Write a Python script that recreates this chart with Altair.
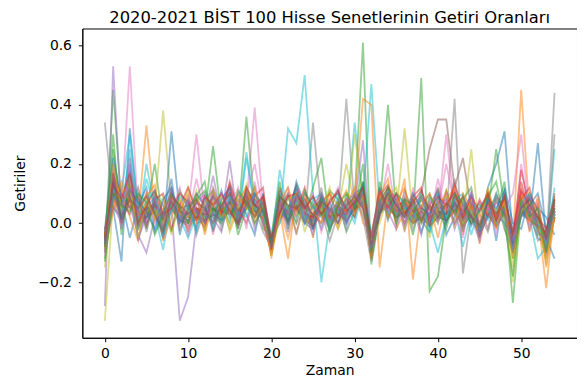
import altair as alt
import pandas as pd

# Time index (weeks) 0..54
zaman = list(range(55))

# Returns (representative series)
s01 = [-0.06, 0.15, -0.02, 0.18, 0.01, 0.05, 0.03, -0.03, 0.10, 0.04,
       0.00, 0.05, 0.01, 0.06, 0.03, 0.10, -0.02, 0.12, 0.07, 0.02,
       -0.10, 0.09, 0.03, 0.05, 0.00, -0.02, 0.08, 0.02, 0.06, 0.00,
       0.10, 0.12, -0.12, 0.04, 0.09, 0.05, 0.02, 0.04, 0.01, -0.03,
       0.06, 0.03, 0.08, -0.02, 0.05, -0.05, 0.07, 0.02, 0.10, -0.10,
       0.06, 0.04, -0.02, -0.10, 0.02]
s02 = [-0.03, 0.08, 0.05, 0.12, 0.02, 0.33, 0.04, -0.05, 0.05, 0.01,
       0.03, 0.02, -0.01, 0.05, 0.04, 0.07, 0.02, 0.06, 0.04, 0.05,
       -0.07, 0.03, 0.00, 0.08, 0.03, 0.02, 0.04, -0.01, 0.03, 0.04,
       0.05, 0.06, -0.08, 0.06, 0.05, 0.02, 0.07, 0.00, 0.04, 0.02,
       0.01, 0.04, 0.03, 0.02, 0.03, -0.02, 0.05, -0.01, 0.03, -0.06,
       0.45, 0.03, 0.02, -0.22, 0.04]
s03 = [-0.10, 0.45, 0.06, 0.08, -0.02, 0.04, 0.20, 0.00, 0.04, 0.03,
       0.02, 0.01, 0.03, 0.02, 0.00, 0.05, 0.03, 0.10, 0.06, 0.01,
       -0.09, 0.06, 0.04, 0.06, 0.01, 0.03, 0.06, 0.02, 0.05, 0.03,
       0.08, 0.61, -0.14, 0.03, 0.06, 0.04, 0.03, 0.02, 0.02, 0.01,
       0.04, 0.01, 0.06, 0.01, 0.02, -0.04, 0.03, 0.01, 0.06, -0.09,
       0.04, 0.01, 0.01, -0.07, 0.02]
s04 = [-0.07, 0.20, 0.04, 0.14, 0.03, 0.02, 0.06, 0.02, 0.08, 0.05,
       0.06, 0.08, 0.04, 0.09, 0.05, 0.12, 0.02, 0.09, 0.10, 0.06,
       -0.06, 0.12, 0.04, 0.13, 0.05, 0.03, 0.09, 0.04, 0.07, 0.05,
       0.09, 0.11, -0.09, 0.09, 0.13, 0.05, 0.08, 0.03, 0.06, 0.02,
       0.05, 0.06, 0.10, 0.03, 0.06, -0.01, 0.08, 0.03, 0.09, -0.06,
       0.10, 0.04, 0.02, -0.06, 0.05]
s05 = [-0.28, 0.53, 0.02, 0.06, -0.04, -0.10, 0.02, -0.03, 0.05, -0.33,
       -0.25, 0.00, 0.01, 0.03, 0.01, 0.04, -0.01, 0.05, 0.03, 0.02,
       -0.09, 0.04, 0.01, 0.05, 0.01, -0.01, 0.03, -0.02, 0.03, 0.01,
       0.05, 0.06, -0.11, 0.04, 0.06, 0.02, 0.04, 0.00, 0.02, -0.01,
       0.02, 0.01, 0.04, -0.01, 0.03, -0.04, 0.03, -0.01, 0.04, -0.09,
       0.04, 0.01, -0.01, -0.09, 0.02]
s06 = [-0.05, 0.12, 0.03, 0.09, 0.01, 0.04, 0.05, 0.00, 0.07, 0.03,
       0.02, 0.04, 0.03, 0.05, 0.03, 0.08, 0.01, 0.07, 0.05, 0.04,
       -0.11, 0.05, 0.03, 0.07, 0.03, 0.01, 0.05, 0.01, 0.05, 0.02,
       0.07, 0.09, -0.10, 0.05, 0.08, 0.03, 0.06, 0.02, 0.10, 0.25,
       0.35, 0.35, 0.12, 0.22, 0.05, -0.02, 0.04, 0.00, 0.05, -0.07,
       0.06, 0.03, 0.01, -0.08, 0.04]
s07 = [-0.08, 0.10, 0.05, 0.53, 0.02, 0.03, 0.04, -0.02, 0.05, 0.02,
       0.04, 0.30, 0.03, 0.04, 0.01, 0.05, -0.01, 0.07, 0.39, 0.05,
       -0.08, 0.04, 0.02, 0.06, 0.02, 0.00, 0.04, 0.00, 0.03, 0.02,
       0.05, 0.08, -0.10, 0.05, 0.07, 0.03, 0.05, 0.01, 0.03, 0.00,
       0.03, 0.30, 0.05, 0.00, 0.04, -0.03, 0.04, 0.00, 0.05, -0.08,
       0.20, 0.02, 0.00, -0.08, 0.03]
s08 = [0.34, 0.05, 0.02, 0.08, 0.00, 0.02, 0.04, -0.02, 0.05, 0.01,
       0.00, 0.02, 0.01, 0.03, 0.01, 0.05, -0.01, 0.07, 0.04, 0.02,
       -0.09, 0.04, 0.01, 0.06, 0.01, 0.34, 0.04, -0.01, 0.03, 0.42,
       0.05, 0.07, -0.11, 0.04, 0.06, 0.02, 0.04, 0.00, 0.02, -0.01,
       0.02, 0.01, 0.42, -0.17, 0.03, -0.04, 0.03, -0.01, 0.04, -0.09,
       0.04, 0.01, -0.01, -0.09, 0.44]
s09 = [-0.33, 0.08, 0.04, 0.07, 0.01, 0.03, 0.05, 0.38, 0.06, 0.02,
       0.01, 0.03, 0.02, 0.04, 0.02, 0.06, 0.00, 0.08, 0.05, 0.03,
       -0.08, 0.05, 0.02, 0.07, 0.02, 0.00, 0.05, 0.00, 0.04, 0.20,
       0.06, 0.08, -0.10, 0.05, 0.07, 0.03, 0.05, 0.01, 0.03, 0.00,
       0.03, 0.02, 0.05, 0.00, 0.25, -0.03, 0.04, 0.00, 0.05, -0.10,
       0.05, 0.02, 0.00, -0.10, 0.03]
s10 = [-0.06, 0.15, 0.05, 0.22, 0.01, 0.15, 0.05, -0.01, 0.06, 0.02,
       0.01, 0.03, 0.02, 0.04, 0.02, 0.06, 0.00, 0.08, 0.05, 0.03,
       -0.08, 0.02, 0.32, 0.27, 0.50, 0.10, -0.20, 0.00, 0.04, 0.02,
       0.34, 0.08, 0.47, 0.05, 0.07, 0.03, 0.05, 0.01, 0.03, 0.00,
       -0.10, 0.02, 0.05, 0.00, 0.04, -0.03, 0.04, 0.00, 0.05, -0.08,
       0.05, 0.02, 0.00, -0.08, 0.25]
s11 = [-0.02, 0.05, -0.13, 0.32, 0.03, 0.02, 0.06, -0.04, 0.31, 0.03,
       0.02, 0.04, 0.00, 0.05, 0.03, 0.07, 0.01, 0.09, 0.06, 0.02,
       -0.07, 0.06, 0.03, 0.08, 0.03, 0.01, 0.06, 0.01, 0.05, 0.03,
       0.07, 0.09, -0.09, 0.06, 0.08, 0.04, 0.06, 0.02, 0.04, 0.01,
       0.04, 0.03, 0.06, 0.01, 0.05, -0.02, 0.12, 0.20, 0.31, -0.05,
       0.03, 0.01, 0.27, -0.05, -0.12]
s12 = [-0.05, 0.12, 0.06, 0.11, -0.01, 0.05, 0.06, -0.03, 0.07, 0.03,
       -0.02, 0.02, 0.03, 0.06, 0.00, 0.08, 0.02, 0.10, 0.04, 0.01,
       -0.10, 0.04, -0.12, 0.09, 0.04, 0.01, 0.07, 0.02, 0.05, 0.03,
       0.06, 0.42, 0.40, -0.15, 0.08, 0.04, 0.15, -0.19, 0.05, 0.02,
       0.02, 0.03, 0.07, 0.02, 0.06, -0.01, 0.06, 0.01, 0.07, -0.05,
       0.07, 0.03, 0.02, -0.04, 0.05]
s13 = [-0.09, 0.25, 0.04, 0.08, 0.02, 0.05, 0.03, -0.02, 0.06, 0.04,
       0.02, 0.02, 0.03, 0.26, 0.02, 0.06, 0.01, 0.36, 0.06, 0.03,
       -0.08, 0.05, 0.02, 0.07, 0.02, 0.12, 0.22, 0.00, 0.04, 0.02,
       0.06, 0.08, -0.10, 0.05, 0.40, 0.03, 0.05, 0.01, 0.49, -0.23,
       -0.18, 0.02, 0.05, 0.00, 0.04, -0.03, 0.04, 0.25, 0.05, -0.08,
       0.05, 0.02, 0.00, -0.08, 0.03]
s14 = [-0.04, 0.18, 0.02, 0.12, 0.04, 0.03, 0.07, 0.01, 0.07, 0.04,
       0.03, 0.05, 0.04, 0.07, 0.05, 0.13, 0.03, 0.07, 0.08, 0.04,
       -0.07, 0.08, 0.05, 0.12, 0.03, 0.02, 0.08, 0.03, 0.06, 0.04,
       0.08, 0.10, -0.08, 0.07, 0.12, 0.06, 0.07, 0.04, 0.05, 0.03,
       0.07, 0.05, 0.09, 0.04, 0.07, 0.00, 0.06, 0.02, 0.08, -0.05,
       0.18, 0.05, 0.03, -0.05, 0.07]
s15 = [-0.06, 0.14, 0.04, 0.09, -0.05, 0.02, 0.04, -0.01, 0.08, 0.02,
       0.03, 0.05, 0.02, 0.16, 0.02, 0.21, 0.00, 0.08, 0.05, 0.03,
       -0.09, 0.05, 0.02, 0.07, 0.02, 0.00, 0.05, 0.00, 0.04, 0.02,
       0.06, 0.28, -0.10, 0.05, 0.07, 0.03, 0.05, 0.01, 0.03, 0.00,
       0.03, 0.02, 0.05, 0.00, 0.04, -0.03, 0.04, 0.00, 0.05, -0.08,
       0.05, 0.02, 0.00, -0.08, 0.08]
s16 = [-0.03, 0.09, 0.05, 0.13, 0.00, 0.04, 0.06, 0.00, 0.07, 0.03,
       0.01, 0.04, 0.02, 0.05, 0.03, 0.07, 0.00, 0.09, 0.06, 0.03,
       -0.08, 0.06, 0.02, 0.12, 0.02, 0.01, 0.06, 0.00, 0.05, 0.03,
       0.07, 0.09, -0.10, 0.06, 0.08, 0.04, 0.06, 0.01, 0.04, 0.01,
       0.04, 0.03, 0.06, 0.01, 0.05, -0.03, 0.05, 0.01, 0.06, -0.08,
       0.06, 0.03, 0.01, -0.08, 0.04]
s17 = [-0.07, 0.08, 0.03, 0.10, 0.01, 0.04, 0.05, -0.01, 0.05, 0.02,
       0.02, 0.03, 0.02, 0.04, 0.02, 0.06, 0.00, 0.08, 0.05, 0.03,
       -0.08, 0.05, 0.02, 0.07, 0.02, 0.00, 0.05, 0.00, 0.04, 0.02,
       0.06, 0.08, -0.10, 0.05, 0.20, 0.03, 0.05, 0.01, 0.03, 0.00,
       0.15, 0.02, 0.05, 0.00, 0.04, -0.03, 0.04, 0.00, 0.05, 0.10,
       0.30, 0.02, 0.00, -0.08, 0.03]
s18 = [-0.05, 0.06, 0.02, 0.08, 0.00, 0.02, 0.04, -0.02, 0.05, 0.01,
       -0.01, 0.02, 0.01, 0.03, 0.01, 0.05, -0.01, 0.07, 0.04, 0.02,
       -0.09, 0.04, 0.01, 0.06, 0.01, -0.01, 0.04, -0.01, 0.03, 0.01,
       0.05, 0.07, -0.11, 0.04, 0.06, 0.02, 0.04, 0.00, 0.02, -0.01,
       0.02, 0.01, 0.04, -0.01, 0.03, -0.04, 0.03, -0.01, 0.04, -0.09,
       0.04, 0.01, -0.01, -0.09, 0.02]
s19 = [-0.04, 0.15, 0.03, 0.10, 0.00, 0.03, 0.05, -0.01, 0.06, 0.02,
       0.12, 0.03, 0.02, 0.04, 0.02, 0.06, 0.00, 0.08, 0.05, 0.03,
       -0.08, 0.05, 0.02, 0.07, 0.02, 0.00, 0.05, 0.00, 0.04, 0.02,
       0.30, 0.08, -0.10, 0.05, 0.07, 0.03, 0.32, 0.01, 0.03, 0.00,
       0.03, 0.02, 0.05, 0.00, 0.04, -0.03, 0.04, 0.00, 0.05, -0.08,
       0.05, 0.02, 0.00, -0.08, 0.03]
s20 = [-0.06, 0.12, 0.04, 0.20, 0.02, 0.10, 0.03, -0.09, 0.07, 0.01,
       0.00, 0.04, 0.01, 0.05, 0.03, 0.07, 0.01, 0.24, 0.06, 0.02,
       -0.07, 0.18, 0.03, 0.08, 0.03, 0.01, 0.06, 0.01, 0.05, 0.03,
       0.07, 0.09, -0.09, 0.06, 0.08, 0.04, 0.06, 0.02, 0.04, 0.01,
       0.04, 0.03, 0.06, 0.01, 0.05, -0.02, 0.05, 0.01, 0.06, -0.07,
       0.06, 0.03, 0.01, -0.07, 0.04]
s21 = [-0.08, 0.10, 0.02, 0.09, -0.01, 0.02, 0.06, 0.00, 0.05, 0.03,
       0.02, 0.02, 0.03, 0.03, 0.01, 0.05, 0.01, 0.06, 0.04, 0.04,
       -0.09, 0.04, 0.03, 0.06, 0.00, 0.01, 0.04, 0.01, 0.03, 0.03,
       0.05, 0.07, -0.09, 0.04, 0.06, 0.02, 0.04, 0.02, 0.02, 0.01,
       0.02, 0.03, 0.04, 0.01, 0.03, -0.02, 0.03, 0.01, 0.04, -0.07,
       0.04, 0.03, -0.05, -0.07, 0.02]
s22 = [-0.02, 0.07, 0.03, 0.08, 0.02, 0.06, 0.04, -0.04, 0.05, 0.01,
       0.00, 0.03, 0.01, 0.04, 0.03, 0.05, -0.01, 0.07, 0.03, 0.02,
       -0.09, 0.05, -0.05, 0.06, 0.01, 0.00, 0.04, -0.01, 0.03, 0.01,
       0.05, 0.07, -0.11, 0.04, 0.06, 0.02, 0.04, 0.00, 0.02, -0.01,
       0.03, 0.01, 0.04, -0.01, 0.03, -0.04, 0.03, -0.01, 0.04, -0.09,
       0.04, 0.01, -0.01, -0.12, 0.02]
s23 = [-0.12, 0.09, 0.05, 0.09, 0.03, 0.02, 0.07, 0.01, 0.05, 0.03,
       0.02, 0.03, 0.03, 0.05, 0.02, 0.07, 0.01, 0.09, 0.04, 0.03,
       -0.08, 0.06, 0.03, 0.06, 0.03, 0.01, 0.06, 0.01, 0.05, 0.02,
       0.07, 0.07, -0.09, 0.06, 0.06, 0.04, 0.05, 0.02, 0.03, 0.01,
       0.04, 0.02, 0.05, 0.01, 0.04, -0.02, 0.04, 0.01, 0.06, -0.27,
       0.06, 0.03, 0.01, -0.08, 0.03]
s24 = [-0.05, 0.14, 0.03, 0.10, 0.02, 0.04, 0.05, 0.00, 0.06, 0.04,
       0.03, 0.05, 0.03, 0.04, 0.04, 0.07, 0.01, 0.09, 0.06, 0.05,
       -0.07, 0.06, 0.04, 0.08, 0.03, 0.02, 0.05, 0.02, 0.04, 0.03,
       0.06, 0.08, -0.08, 0.05, 0.08, 0.04, 0.06, 0.02, 0.04, 0.02,
       0.04, 0.03, 0.06, 0.02, 0.05, -0.01, 0.05, 0.02, 0.06, -0.06,
       0.14, 0.03, 0.02, -0.06, 0.06]
s25 = [-0.05, 0.11, 0.03, 0.10, 0.00, 0.03, 0.05, -0.01, 0.06, 0.02,
       0.01, 0.03, 0.02, 0.04, 0.02, 0.06, 0.00, 0.08, 0.05, 0.03,
       -0.08, 0.05, 0.02, 0.07, 0.02, 0.00, 0.05, 0.00, 0.04, 0.02,
       0.06, 0.08, -0.10, 0.05, 0.07, 0.03, 0.05, 0.01, 0.03, 0.00,
       0.03, 0.02, 0.05, 0.00, 0.04, -0.03, 0.04, 0.00, 0.05, -0.08,
       0.05, 0.02, 0.00, -0.08, 0.03]
s26 = [-0.04, 0.16, 0.05, 0.12, 0.01, 0.05, 0.06, 0.01, 0.07, 0.03,
       0.02, 0.05, 0.03, 0.05, 0.03, 0.07, 0.01, 0.10, 0.06, 0.04,
       -0.07, 0.07, 0.03, 0.09, 0.03, 0.01, 0.06, 0.01, 0.05, 0.03,
       0.07, 0.10, -0.09, 0.06, 0.09, 0.04, 0.06, 0.02, 0.04, 0.01,
       0.04, 0.03, 0.07, 0.01, 0.05, -0.02, 0.05, 0.01, 0.06, -0.07,
       0.06, 0.03, 0.01, -0.07, 0.04]
s27 = [-0.03, 0.20, 0.04, 0.15, 0.02, 0.04, 0.06, 0.00, 0.09, 0.03,
       0.02, 0.15, 0.03, 0.06, 0.03, 0.09, 0.01, 0.09, 0.20, 0.04,
       -0.08, 0.06, 0.03, 0.08, 0.03, 0.01, 0.06, 0.01, 0.05, 0.03,
       0.07, 0.09, -0.09, 0.06, 0.08, 0.04, 0.06, 0.02, 0.04, 0.01,
       0.04, 0.20, 0.06, 0.01, 0.05, -0.02, 0.05, 0.01, 0.06, -0.07,
       0.06, 0.03, 0.01, -0.07, 0.04]
s28 = [-0.06, 0.09, 0.02, 0.09, -0.02, 0.02, 0.04, -0.02, 0.05, 0.01,
       0.00, 0.02, 0.01, 0.03, 0.01, 0.05, -0.01, 0.07, 0.04, 0.02,
       -0.09, 0.04, 0.01, 0.06, 0.01, -0.01, 0.04, -0.06, 0.03, 0.01,
       0.05, 0.07, -0.11, 0.04, 0.06, 0.02, 0.04, 0.00, 0.02, -0.01,
       0.02, 0.01, 0.15, -0.01, 0.03, -0.04, 0.03, -0.01, 0.04, -0.09,
       0.04, 0.01, -0.01, -0.09, 0.30]
s29 = [-0.15, 0.12, 0.04, 0.11, 0.01, 0.04, 0.05, 0.00, 0.06, 0.03,
       0.02, 0.03, 0.02, 0.04, 0.02, 0.06, 0.01, 0.08, 0.05, 0.03,
       -0.08, 0.05, 0.02, 0.07, 0.02, 0.00, 0.05, 0.00, 0.04, 0.02,
       0.06, 0.08, -0.10, 0.05, 0.07, 0.03, 0.05, 0.01, 0.03, 0.00,
       0.03, 0.02, 0.05, 0.00, 0.04, -0.03, 0.04, 0.00, 0.05, -0.20,
       0.05, 0.02, 0.00, -0.12, 0.03]
s30 = [-0.07, 0.13, 0.03, 0.25, 0.00, 0.20, 0.05, -0.05, 0.06, 0.02,
       -0.05, 0.03, 0.02, 0.04, 0.02, 0.06, 0.00, 0.22, 0.05, 0.03,
       -0.08, 0.05, 0.02, 0.07, 0.02, 0.00, 0.05, 0.00, 0.04, 0.02,
       0.06, 0.08, -0.10, 0.05, 0.07, 0.03, 0.05, 0.01, 0.03, 0.00,
       0.03, 0.02, 0.05, -0.08, 0.04, -0.03, 0.04, 0.00, 0.05, -0.08,
       0.05, 0.02, -0.12, -0.08, 0.03]
s31 = [-0.02, 0.22, 0.08, -0.05, 0.06, 0.12, -0.03, 0.04, 0.15, -0.04,
       0.07, -0.02, 0.09, 0.00, 0.11, 0.02, 0.08, 0.03, -0.04, 0.10,
       -0.05, 0.00, 0.09, 0.02, 0.10, 0.06, -0.02, 0.07, 0.00, 0.09,
       0.02, 0.14, -0.05, 0.12, 0.01, 0.09, -0.02, 0.08, -0.03, 0.06,
       0.11, -0.04, 0.02, 0.09, -0.01, 0.05, 0.10, -0.06, 0.12, 0.00,
       -0.02, 0.09, 0.05, 0.02, -0.04]
s32 = [-0.09, 0.04, 0.12, 0.02, -0.06, 0.09, 0.13, -0.06, 0.02, 0.08,
       -0.03, 0.10, -0.04, 0.08, 0.06, -0.02, 0.07, 0.12, 0.00, 0.08,
       -0.12, 0.10, 0.05, -0.03, 0.07, -0.05, 0.10, 0.05, -0.02, 0.06,
       0.12, 0.00, -0.03, 0.09, 0.15, -0.02, 0.04, 0.10, 0.00, 0.07,
       -0.05, 0.08, 0.12, -0.04, 0.09, -0.07, 0.06, 0.08, -0.02, -0.10,
       0.12, -0.03, 0.07, -0.09, 0.10]
s33 = [-0.05, 0.30, -0.04, 0.16, 0.08, -0.02, 0.10, 0.06, -0.03, 0.11,
       0.05, 0.09, 0.14, -0.03, 0.06, 0.10, -0.04, 0.05, 0.12, -0.02,
       -0.04, 0.14, -0.02, 0.10, 0.05, 0.09, 0.02, 0.11, 0.08, -0.03,
       0.04, 0.20, -0.12, 0.14, 0.02, 0.10, 0.07, -0.04, 0.09, 0.05,
       0.00, 0.11, 0.03, 0.08, 0.12, -0.02, 0.09, 0.04, 0.14, -0.12,
       0.03, 0.08, -0.04, -0.03, 0.06]
s34 = [-0.06, 0.16, 0.10, 0.05, 0.09, -0.01, 0.08, 0.10, -0.02, 0.06,
       0.12, 0.04, -0.02, 0.10, 0.03, 0.14, 0.05, 0.00, 0.09, 0.12,
       -0.09, 0.03, 0.10, 0.04, 0.12, -0.02, 0.07, 0.10, 0.02, 0.08,
       0.04, 0.10, -0.06, 0.02, 0.12, 0.08, 0.00, 0.09, 0.12, -0.01,
       0.08, 0.04, 0.13, 0.05, 0.00, 0.08, 0.02, 0.10, 0.03, -0.04,
       0.08, 0.12, -0.01, -0.03, 0.09]
s35 = [-0.10, 0.06, 0.00, 0.20, -0.06, 0.05, 0.09, -0.05, 0.10, 0.06,
       -0.04, 0.07, 0.10, 0.02, -0.03, 0.09, 0.06, 0.10, -0.02, 0.07,
       -0.06, 0.08, -0.03, 0.11, 0.04, -0.04, 0.09, 0.03, 0.07, -0.02,
       0.08, 0.05, -0.08, 0.10, 0.04, -0.02, 0.09, 0.05, -0.04, 0.08,
       0.03, 0.10, -0.02, 0.07, 0.02, -0.06, 0.10, 0.03, 0.00, -0.05,
       0.09, -0.02, 0.06, -0.10, 0.07]
s36 = [-0.04, 0.10, 0.07, 0.03, 0.12, 0.00, 0.06, 0.03, 0.11, -0.02,
       0.05, 0.08, 0.00, 0.12, 0.04, 0.03, 0.10, 0.06, 0.02, 0.09,
       -0.07, 0.11, 0.00, 0.09, 0.06, 0.03, 0.00, 0.08, 0.10, 0.05,
       0.02, 0.12, -0.10, 0.07, 0.10, 0.00, 0.11, 0.04, 0.08, 0.02,
       0.12, 0.00, 0.09, 0.06, 0.02, 0.07, -0.02, 0.09, 0.05, -0.08,
       0.03, 0.10, 0.04, -0.05, 0.02]
s37 = [-0.11, 0.18, -0.02, 0.22, 0.03, 0.10, 0.00, 0.07, 0.04, 0.12,
       -0.02, 0.06, 0.09, -0.04, 0.10, 0.05, 0.12, -0.02, 0.14, 0.00,
       -0.10, 0.07, 0.12, 0.00, 0.05, 0.10, -0.03, 0.06, 0.12, 0.00,
       0.10, 0.03, -0.07, 0.11, 0.05, 0.09, -0.03, 0.12, 0.02, 0.07,
       0.00, 0.10, 0.04, -0.05, 0.11, 0.00, 0.06, -0.03, 0.10, -0.06,
       0.12, 0.00, 0.08, -0.11, 0.06]
s38 = [-0.03, 0.12, 0.03, 0.06, 0.10, -0.03, 0.09, 0.02, 0.07, 0.00,
       0.09, -0.04, 0.05, 0.09, -0.02, 0.08, 0.03, 0.11, 0.05, -0.03,
       -0.08, 0.06, 0.10, -0.04, 0.08, 0.02, 0.12, -0.03, 0.08, 0.05,
       0.09, 0.02, -0.13, 0.05, 0.10, 0.02, 0.08, -0.02, 0.05, 0.10,
       0.01, 0.06, 0.10, -0.03, 0.07, 0.03, -0.03, 0.08, 0.02, -0.10,
       0.07, 0.04, -0.06, -0.04, 0.10]
s39 = [-0.08, 0.20, 0.05, 0.13, -0.05, 0.08, 0.02, 0.09, -0.04, 0.08,
       0.03, 0.11, -0.03, 0.07, 0.09, -0.03, 0.05, 0.13, 0.02, 0.06,
       -0.11, 0.02, 0.08, 0.10, -0.03, 0.07, 0.04, 0.12, -0.02, 0.10,
       0.08, 0.04, -0.06, 0.00, 0.09, 0.12, -0.02, 0.06, 0.10, -0.05,
       0.06, 0.09, -0.01, 0.08, 0.04, -0.02, 0.12, 0.02, 0.07, -0.15,
       0.04, 0.07, 0.02, -0.14, 0.05]
s40 = [-0.05, 0.08, 0.11, 0.30, 0.04, 0.07, 0.11, -0.04, 0.04, 0.09,
       0.06, -0.03, 0.08, 0.11, 0.00, 0.09, 0.04, 0.02, 0.10, 0.06,
       -0.05, 0.10, 0.04, 0.12, 0.00, 0.08, 0.10, -0.02, 0.09, 0.06,
       0.00, 0.11, -0.04, 0.08, 0.03, 0.10, 0.06, 0.00, 0.11, -0.03,
       0.09, 0.02, 0.08, 0.10, -0.04, 0.06, 0.01, 0.10, -0.02, -0.09,
       0.07, 0.10, 0.00, -0.07, 0.12]
s41 = [-0.07, 0.14, 0.01, 0.11, 0.07, 0.04, -0.02, 0.08, 0.12, 0.00,
       0.04, 0.10, 0.06, -0.02, 0.08, 0.12, 0.00, 0.06, 0.10, 0.04,
       -0.06, 0.08, 0.00, 0.14, 0.06, -0.02, 0.09, 0.04, 0.11, 0.00,
       0.06, 0.13, -0.08, 0.03, 0.11, 0.06, 0.02, 0.10, 0.05, 0.03,
       0.10, 0.00, 0.07, 0.03, 0.10, -0.03, 0.08, 0.05, 0.11, -0.07,
       0.02, 0.06, 0.10, -0.02, 0.05]
s42 = [-0.04, 0.06, 0.14, 0.07, 0.03, 0.10, 0.01, 0.05, 0.09, 0.04,
       0.10, 0.00, 0.07, 0.11, 0.02, 0.04, 0.09, 0.05, 0.12, 0.00,
       -0.10, 0.06, 0.12, 0.03, 0.09, 0.04, 0.00, 0.10, 0.06, 0.11,
       0.03, 0.09, -0.12, 0.10, 0.02, 0.07, 0.12, 0.00, 0.06, 0.10,
       0.04, 0.11, 0.00, 0.10, 0.05, 0.02, 0.11, -0.02, 0.08, -0.12,
       0.10, 0.00, 0.09, -0.15, 0.02]
s43 = [-0.13, 0.10, 0.06, 0.04, 0.10, 0.07, -0.04, 0.03, 0.10, 0.05,
       0.00, 0.08, 0.11, 0.04, 0.07, 0.00, 0.11, 0.07, 0.00, 0.05,
       -0.07, 0.09, 0.06, 0.00, 0.11, 0.05, 0.08, -0.03, 0.06, 0.10,
       0.05, 0.14, -0.10, 0.07, 0.12, 0.00, 0.08, 0.06, 0.00, 0.09,
       0.05, -0.02, 0.10, 0.07, 0.00, 0.04, 0.09, 0.14, 0.00, -0.18,
       0.08, 0.02, 0.05, -0.10, 0.08]
s44 = [-0.05, 0.13, 0.08, 0.17, 0.00, 0.06, 0.11, 0.03, 0.05, 0.10,
       0.07, 0.01, 0.09, 0.06, 0.10, 0.04, 0.00, 0.12, 0.06, 0.09,
       -0.05, 0.04, 0.09, 0.10, 0.05, 0.09, 0.03, 0.07, 0.11, 0.04,
       0.07, 0.12, -0.05, 0.11, 0.05, 0.10, 0.03, 0.07, 0.11, 0.04,
       0.09, 0.06, 0.11, 0.02, 0.09, 0.04, 0.10, 0.01, 0.09, -0.03,
       0.11, 0.06, 0.02, -0.02, 0.08]
s45 = [-0.06, 0.09, 0.06, 0.12, 0.04, 0.00, 0.08, 0.02, 0.12, 0.01,
       0.08, 0.04, 0.00, 0.09, 0.05, 0.11, 0.02, 0.06, 0.09, 0.00,
       -0.08, 0.07, 0.03, 0.09, 0.00, 0.06, 0.10, 0.02, 0.00, 0.07,
       0.10, 0.06, -0.09, 0.08, 0.04, 0.07, 0.00, 0.06, 0.09, 0.02,
       0.06, 0.08, 0.00, 0.05, 0.09, -0.04, 0.02, 0.07, 0.04, -0.09,
       0.06, 0.09, -0.03, -0.06, 0.04]
s46 = [-0.08, 0.17, 0.00, 0.08, 0.05, 0.09, 0.03, -0.03, 0.09, 0.06,
       0.03, 0.07, 0.05, 0.00, 0.06, 0.10, 0.04, 0.08, 0.02, 0.07,
       -0.09, 0.09, 0.06, 0.05, 0.08, 0.02, 0.07, 0.05, 0.00, 0.06,
       0.09, 0.05, -0.07, 0.04, 0.10, 0.06, 0.02, 0.08, 0.01, 0.06,
       0.02, 0.07, 0.04, 0.09, 0.02, -0.01, 0.07, 0.03, 0.09, -0.04,
       0.05, 0.08, 0.02, -0.05, 0.05]

series = [s01, s02, s03, s04, s05, s06, s07, s08, s09, s10,
          s11, s12, s13, s14, s15, s16, s17, s18, s19, s20,
          s21, s22, s23, s24, s25, s26, s27, s28, s29, s30,
          s31, s32, s33, s34, s35, s36, s37, s38, s39, s40,
          s41, s42, s43, s44, s45, s46]

tab10 = ["#1f77b4", "#ff7f0e", "#2ca02c", "#d62728", "#9467bd",
         "#8c564b", "#e377c2", "#7f7f7f", "#bcbd22", "#17becf"]

rows = []
names = []
for i, s in enumerate(series):
    name = f"h{i:02d}"
    names.append(name)
    for t, v in zip(zaman, s):
        rows.append({"hisse": name, "zaman": t, "getiri": v})
df = pd.DataFrame(rows)
colors = [tab10[i % 10] for i in range(len(names))]

FONT = "DejaVu Sans"

chart = alt.Chart(df).mark_line(strokeWidth=1.8, opacity=0.5, clip=True).encode(
    x=alt.X("zaman:Q",
            scale=alt.Scale(domain=[-2.7, 56.7], nice=False, zero=False),
            axis=alt.Axis(values=[0, 10, 20, 30, 40, 50], title="Zaman",
                          format="d", labelPadding=5, titlePadding=3)),
    y=alt.Y("getiri:Q",
            scale=alt.Scale(domain=[-0.3875, 0.6575], nice=False, zero=False),
            axis=alt.Axis(values=[-0.2, 0.0, 0.2, 0.4, 0.6], title="Getiriler",
                          labelPadding=7, titlePadding=10,
                          labelExpr="replace(format(datum.value, '.1f'), '-', '\u2212')")),
    color=alt.Color("hisse:N", scale=alt.Scale(domain=names, range=colors), legend=None),
    detail="hisse:N",
).properties(
    width=499,
    height=312,
    autosize="none",
    padding={"left": 75, "top": 19, "right": 0, "bottom": 50},
    title=alt.Title("2020-2021 BİST 100 Hisse Senetlerinin Getiri Oranları",
                    font=FONT, fontSize=16.5, fontWeight="normal", color="#000",
                    anchor="middle", offset=2.5),
).configure_view(
    stroke="#000", strokeWidth=1
).configure_axis(
    grid=False, domain=True, domainColor="#000", domainWidth=1,
    tickColor="#000", tickSize=4, tickWidth=1,
    labelFont=FONT, labelFontSize=14, labelColor="#000",
    titleFont=FONT, titleFontSize=14, titleFontWeight="normal", titleColor="#000",
)

chart.save("out.html", embed_options={"renderer": "svg", "actions": False})
